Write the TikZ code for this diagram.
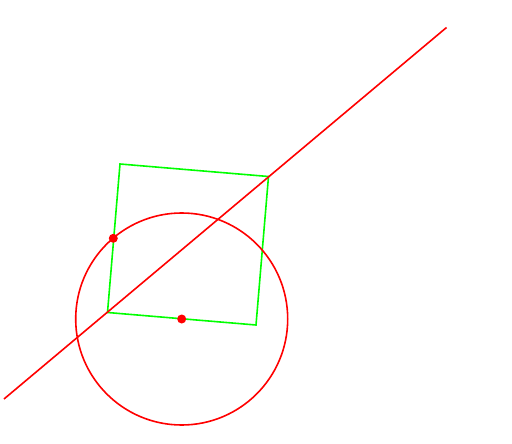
\documentclass[tikz,border=0pt]{standalone}
\usepackage{tikz}
\usetikzlibrary{positioning}

\begin{document}
\begin{tikzpicture}[
    x=1pt, y=-1pt,
    redline/.style={draw=red, line width=1.6pt},
    sqline/.style={draw=green, line width=1.6pt},
    pt/.style={circle, fill=red, inner sep=0pt, minimum size=9pt}
]
\useasboundingbox (0,0) rectangle (512,444);
% line end points
\coordinate (lstart) at (4,399);
\coordinate (lend)   at (446.5,27.5);
% square corners
\coordinate (sqa) at (120,164);
\coordinate (sqb) at (268.5,176.5);
\coordinate (sqc) at (256,325);
\coordinate (sqd) at (107.5,312.5);
\coordinate (ctr) at (181.7,319);
\draw[sqline] (sqa) -- (sqb) -- (sqc) -- (sqd) -- cycle;
\draw[redline] (ctr) circle (106);
\draw[redline] (lstart) -- (lend);
% points on top
\node[pt] (center) at (ctr) {};
\node[pt] (touch)  at (113.3,238.3) {};
\end{tikzpicture}
\end{document}
